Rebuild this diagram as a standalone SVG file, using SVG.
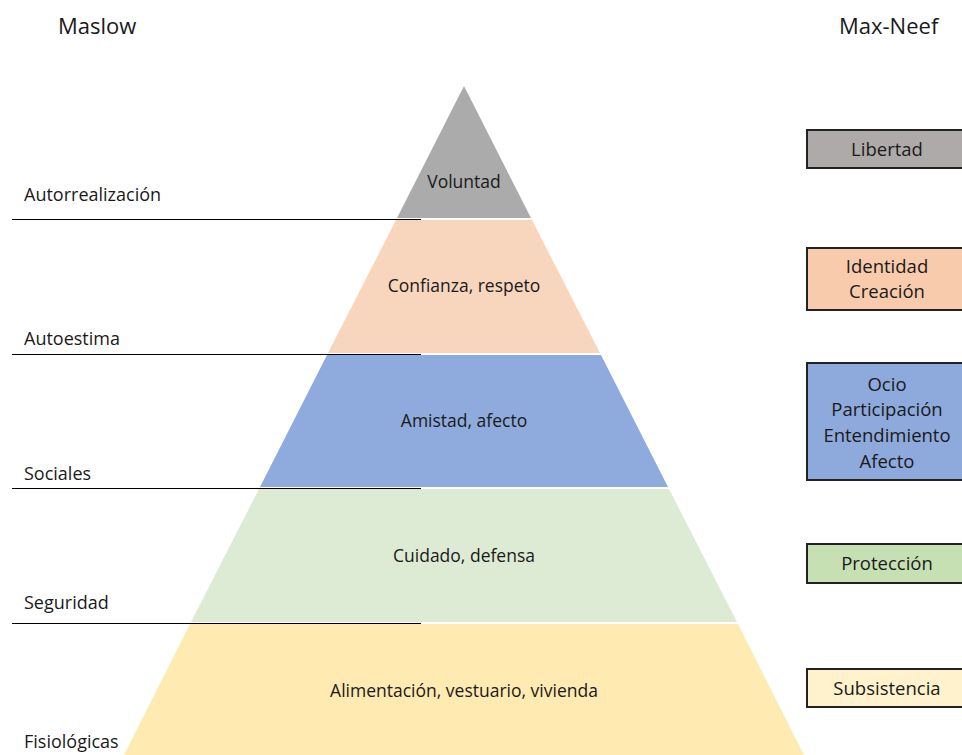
<svg xmlns="http://www.w3.org/2000/svg" width="962" height="755" viewBox="0 0 962 755">
<style>
text{font-family:"Open Sans","Liberation Sans",sans-serif;fill:#1a1a1a}
.t{font-size:22px}
.l{font-size:18px}
.c{font-size:17.5px;text-anchor:middle}
.b{font-size:18.5px;text-anchor:middle}
.box{stroke:#222;stroke-width:2}
.sep{stroke:#000;stroke-width:1}
</style>
<rect width="962" height="755" fill="#fff"/>
<text class="t" x="58" y="34">Maslow</text>
<text class="t" x="839" y="34">Max-Neef</text>
<g id="lvl1"><polygon points="464,86 531,218 397,218" fill="#ABABAB"/><text class="c" x="464" y="188">Voluntad</text></g>
<g id="lvl2"><polygon points="396,220 532,220 600,353 328,353" fill="#F8D5BD"/><text class="c" x="464" y="292">Confianza, respeto</text></g>
<g id="lvl3"><polygon points="327,355 601,355 668,487 260,487" fill="#8FAADC"/><text class="c" x="464" y="427">Amistad, afecto</text></g>
<g id="lvl4"><polygon points="259,489 669,489 737,622 191,622" fill="#DDEBD4"/><text class="c" x="464" y="562">Cuidado, defensa</text></g>
<g id="lvl5"><polygon points="190,624 738,624 804,755 124,755" fill="#FFEAB2"/><text class="c" x="464" y="697">Alimentación, vestuario, vivienda</text></g>
<g id="connectors">
<line class="sep" x1="12" y1="219.5" x2="421" y2="219.5"/>
<line class="sep" x1="12" y1="354.5" x2="421" y2="354.5"/>
<line class="sep" x1="12" y1="488.5" x2="421" y2="488.5"/>
<line class="sep" x1="12" y1="623.5" x2="421" y2="623.5"/>
</g>
<g id="maslow-labels">
<text class="l" x="24" y="201">Autorrealización</text>
<text class="l" x="24" y="345">Autoestima</text>
<text class="l" x="24" y="480">Sociales</text>
<text class="l" x="24" y="609">Seguridad</text>
<text class="l" x="24" y="748">Fisiológicas</text>
</g>
<g id="mn1"><rect class="box" x="807" y="130" width="160" height="38" fill="#AEAAAA"/><text class="b" x="887" y="156">Libertad</text></g>
<g id="mn2"><rect class="box" x="807" y="248" width="160" height="62" fill="#F8CBAD"/><text class="b" x="887" y="273">Identidad</text><text class="b" x="887" y="298">Creación</text></g>
<g id="mn3"><rect class="box" x="807" y="363" width="160" height="117" fill="#8EA9DB"/><text class="b" x="887" y="391">Ocio</text><text class="b" x="887" y="416">Participación</text><text class="b" x="887" y="442">Entendimiento</text><text class="b" x="887" y="468">Afecto</text></g>
<g id="mn4"><rect class="box" x="807" y="544" width="160" height="39" fill="#C6E0B4"/><text class="b" x="887" y="570">Protección</text></g>
<g id="mn5"><rect class="box" x="807" y="669" width="160" height="38" fill="#FFF2CC"/><text class="b" x="887" y="695">Subsistencia</text></g>
</svg>
